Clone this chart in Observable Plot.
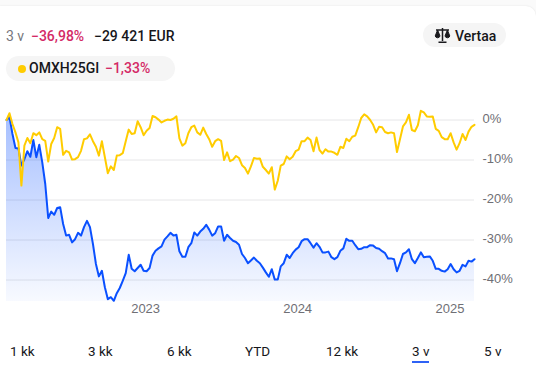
<!DOCTYPE html>
<html>
<head>
<meta charset="utf-8">
<script src="https://cdn.jsdelivr.net/npm/d3@7"></script>
<script src="https://cdn.jsdelivr.net/npm/@observablehq/plot@0.6"></script>
<style>
html,body{margin:0;padding:0;width:536px;height:378px;overflow:hidden;background:#fafafa;font-family:Roboto,"Liberation Sans",sans-serif;}
#card{position:absolute;left:0;top:6px;width:536px;height:372px;background:#fff;border-top-right-radius:10px;box-shadow:0 0 2px rgba(0,0,0,.10);}
.t{position:absolute;white-space:nowrap;font-size:14px;line-height:18px;color:#16161a;font-weight:500;}
.pink{color:#d42a66;}
.gray{color:#77777d;font-weight:400;}
.pill{position:absolute;background:#f5f5f5;}
#chart{position:absolute;left:0;top:100px;}
</style>
</head>
<body>
<div id="card"></div>
<div class="t gray" style="left:6px;top:26.5px">3 v</div>
<div class="t pink" style="left:31px;top:26.5px">−36,98%</div>
<div class="t" style="left:94px;top:26.5px">−29 421 EUR</div>

<div class="pill" style="left:423px;top:23px;width:83px;height:24px;border-radius:12px"></div>
<svg style="position:absolute;left:434px;top:27px" width="17" height="17" viewBox="0 0 17 17" fill="none" stroke="#1a1a1e" stroke-width="1.5">
<path d="M8.5 1v13M4.5 15.3h8M2 3h13"/><path d="M3.6 3 1.2 9a2.5 2.5 0 0 0 4.8 0Z" fill="#1a1a1e" stroke-width="1"/><path d="M13.4 3 11 9a2.5 2.5 0 0 0 4.8 0Z" fill="#1a1a1e" stroke-width="1"/>
</svg>
<div class="t" style="left:455px;top:26.5px">Vertaa</div>

<div class="pill" style="left:6px;top:56px;width:169px;height:25px;border-radius:12.5px"></div>
<div style="position:absolute;left:17.5px;top:65px;width:8px;height:8px;border-radius:50%;background:#ffcc00"></div>
<div class="t" style="left:29px;top:59px">OMXH25GI</div>
<div class="t pink" style="left:105px;top:59px">−1,33%</div>

<div id="chart"></div>

<div id="nav"></div>
<div style="position:absolute;left:412px;top:361px;width:17px;height:2px;background:#2f62f5"></div>

<script>
const indexValues = [
0,1.7,-1.0,-3.1,-5.6,-16.4,-6.4,-4.5,-5.8,-3.3,-3.8,-3.1,-4.8,-5.2,-10.4,-6.0,-4.5,-1.8,-2.2,-8.7,
-7.7,-8.1,-9.9,-9.8,-9.3,-7.7,-4.8,-4.6,-3.6,-5.3,-6.7,-8.9,-5.3,-9.3,-13.3,-11.6,-12.5,-8.9,-8.8,-8.3,
-5.3,-2.4,-3.5,-3.3,-0.3,-1.8,-3.8,-2.7,-2.0,1.0,0.7,0.1,-0.6,-0.2,0.1,
0,0.3,0.9,-4.6,-6.4,-5.8,-3.3,-1.8,-1.4,-3.1,-3.7,-1.9,-3.5,-4.8,-6.7,-5.3,-4.8,-5.2,-10.0,-8.1,
-10.3,-9.9,-9.0,-9.5,-11.3,-12.0,-13.4,-11.6,-9.5,-9.7,-9.6,-11.7,-12.5,-13.4,-11.8,-17.4,-15.2,-11.4,-11.0,-9.1,
-9.8,-9.2,-7.8,-7.4,-5.3,-5.3,-4.4,-5.0,-7.8,-4.4,-7.5,-8.4,-7.3,-7.9,-7.9,-8.2,-8.7,-6.7,-7.0,-4.7,-5.3,
-4.2,-3.9,-1.8,0.5,1.4,0.9,0,-1.2,-3.1,-1.7,-1.8,-3.0,-3.3,-3.1,-3.3,-8.0,-4.8,-1.6,-0.6,1.3,
-2.5,-2.8,-1.3,2.3,1.9,0.9,0.8,0.9,-2.2,-2.7,-4.3,-4.8,-4.8,-3.3,-5.6,-7.4,-5.8,-3.5,-5.0,-2.9,-1.7,-1.2
];
const fundValues = [
0,0.7,-3.5,-7.0,-7.1,-11.4,-9.8,-7.8,-9.2,-5.0,-9.3,-6.2,-10.6,-16.0,-24.5,-22.9,-23.7,-22.0,-21.8,-26.0,
-28.9,-28.7,-30.6,-29.8,-28.2,-28.9,-26.8,-25.2,-26.8,-31.0,-36.0,-39.1,-37.7,-41.8,-44.8,-44.3,-45.2,-43.3,-42.0,-40.2,
-38.3,-33.7,-37.2,-37.8,-37.0,-36.2,-37.7,-37.8,-37.0,-33.9,-32.7,-32.1,-31.6,-29.9,-29.1,
-28.2,-28.9,-28.7,-32.8,-34.2,-34.2,-31.8,-30.8,-28.1,-28.9,-27.9,-27.2,-26.2,-27.4,-28.9,-28.3,-26.6,-26.6,-30.2,-28.7,
-29.5,-30.2,-30.5,-31.2,-33.5,-34.5,-35.8,-35.1,-34.4,-35.2,-35.8,-36.9,-38.1,-39.2,-37.3,-39.9,-39.9,-36.6,-35.8,-33.7,
-34.5,-33.3,-32.4,-31.8,-30.3,-29.8,-29.8,-30.8,-31.9,-30.8,-31.7,-33.1,-33.1,-32.9,-34.3,-34.8,-34.3,-32.7,-32.1,-29.7,-30.2,
-30.2,-31.3,-32.3,-32.2,-31.8,-31.8,-31.3,-31.4,-32.0,-32.2,-32.8,-33.3,-34.6,-34.6,-34.8,-37.8,-35.8,-33.5,-33.1,-32.3,
-34.8,-35.8,-34.5,-33.1,-34.3,-34.2,-34.1,-35.2,-37.2,-37.2,-37.7,-37.9,-37.3,-36.0,-37.3,-38.1,-37.7,-36.2,-36.6,-35.2,-35.4,-34.8
];
const yTicks = [0,-10,-20,-30,-40];
const yearTicks = [2023,2024,2025];
const rangeLabels = ["1 kk","3 kk","6 kk","YTD","12 kk","3 v","5 v"];
const rangeLeft = [10,88,167,245,326,412,484];

const startMs = Date.UTC(2022,1,1);
const stepMs = 7.157*864e5;
const dates = indexValues.map((_,i)=>new Date(startMs+i*stepMs));
const rows = dates.map((d,i)=>({d,ix:indexValues[i],fund:fundValues[i]}));
const floor = -45.375;

const defs = () => {
  const s = d3.create("svg:defs");
  const g = s.append("linearGradient").attr("id","fundFill").attr("x1",0).attr("y1",0).attr("x2",0).attr("y2",1);
  g.append("stop").attr("offset","0%").attr("stop-color","#0a50ff").attr("stop-opacity",0.36);
  g.append("stop").attr("offset","100%").attr("stop-color","#0a50ff").attr("stop-opacity",0.03);
  return s.node();
};

const chart = Plot.plot({
  width:536,height:225,
  marginTop:0,marginBottom:24,marginLeft:6,marginRight:62,
  style:{background:"transparent",fontFamily:"'Liberation Sans',Arial,sans-serif",color:"#6f6f75",overflow:"visible"},
  x:{type:"utc",domain:[dates[0],dates[dates.length-1]]},
  y:{domain:[floor,4.875]},
  marks:[
    defs,
    Plot.gridY(yTicks,{stroke:"#e6e6e8",strokeOpacity:1,strokeWidth:1}),
    Plot.areaY(rows,{x:"d",y1:floor,y2:"fund",fill:"url(#fundFill)",curve:"linear"}),
    Plot.lineY(rows,{x:"d",y:"fund",stroke:"#0a50ff",strokeWidth:2,curve:"linear"}),
    Plot.lineY(rows,{x:"d",y:"ix",stroke:"#ffcc00",strokeWidth:2,curve:"linear"}),
    Plot.axisY(yTicks,{anchor:"right",tickSize:0,tickPadding:8,label:null,textAnchor:"start",fontSize:13,dy:-1,tickFormat:d=>`${d}%`}),
    Plot.axisX(yearTicks.map(y=>new Date(Date.UTC(y,0,1))),{anchor:"bottom",tickSize:0,tickPadding:2,label:null,fontSize:13,tickFormat:d=>String(d.getUTCFullYear())})
  ]
});
document.getElementById("chart").appendChild(chart);

const nav = document.getElementById("nav");
rangeLabels.forEach((t,i)=>{
  const e=document.createElement("div");
  e.className="t";e.style.left=rangeLeft[i]+"px";e.style.top="341.5px";e.style.fontWeight="400";e.style.fontSize="13.5px";e.textContent=t;
  nav.appendChild(e);
});
</script>
</body>
</html>
